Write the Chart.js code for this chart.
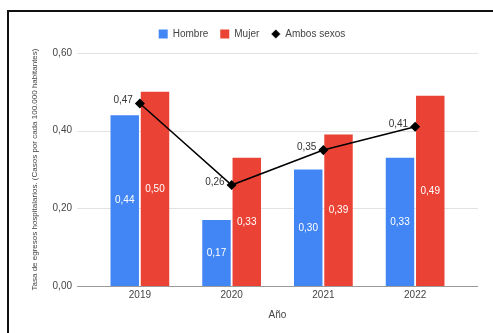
<!DOCTYPE html>
<html>
<head>
<meta charset="utf-8">
<script src="https://cdn.jsdelivr.net/npm/chart.js@4"></script>
<style>
  html, body { margin: 0; padding: 0; background: #fff; overflow: hidden; }
  #wrap { position: relative; width: 493px; height: 333px; }
  #frame { position: absolute; left: 7px; top: 10px; width: 520px; height: 360px; border: 2px solid #111; box-sizing: border-box; }
  canvas { position: absolute; left: 0; top: 0; }
</style>
</head>
<body>
<div id="wrap">
  <div id="frame"></div>
  <canvas id="chart" width="493" height="333"></canvas>
</div>
<script>
const years = ['2019', '2020', '2021', '2022']
const hombre = [0.44, 0.17, 0.30, 0.33]
const mujer = [0.50, 0.33, 0.39, 0.49]
const ambos = [0.47, 0.26, 0.35, 0.41]
const yTicks = [0, 0.2, 0.4, 0.6]

const fmt = (v) => v.toFixed(2).replace('.', ',')

// small diamond for the legend entry of the line
const diamond = document.createElement('canvas')
diamond.width = 10
diamond.height = 10
const dctx = diamond.getContext('2d')
dctx.fillStyle = '#000'
dctx.beginPath()
dctx.moveTo(5, 0.5)
dctx.lineTo(9.5, 5)
dctx.lineTo(5, 9.5)
dctx.lineTo(0.5, 5)
dctx.closePath()
dctx.fill()

// grid lines run wider than the bars area
const gridLines = {
  id: 'gridLines',
  beforeDatasetsDraw(chart) {
    const { ctx } = chart
    const y = chart.scales.y
    ctx.save()
    yTicks.forEach((t) => {
      const py = Math.round(y.getPixelForValue(t)) + 0.5
      ctx.strokeStyle = t === 0 ? '#9a9a9a' : '#e2e2e2'
      ctx.lineWidth = t === 0 ? 1.2 : 1
      ctx.beginPath()
      ctx.moveTo(77, py)
      ctx.lineTo(478, py)
      ctx.stroke()
    })
    ctx.restore()
  }
}

const valueLabels = {
  id: 'valueLabels',
  afterDatasetsDraw(chart) {
    const { ctx } = chart
    ctx.save()
    ctx.font = '10px "Liberation Sans", Arial, sans-serif'
    chart.data.datasets.forEach((ds, i) => {
      const meta = chart.getDatasetMeta(i)
      meta.data.forEach((el, j) => {
        const txt = fmt(ds.data[j])
        ctx.textBaseline = 'middle'
        if (ds.type === 'line') {
          ctx.fillStyle = '#333'
          ctx.textAlign = 'right'
          ctx.fillText(txt, el.x - 7, el.y - 3)
        } else {
          ctx.fillStyle = '#fff'
          ctx.textAlign = 'center'
          ctx.fillText(txt, el.x, (el.y + el.base) / 2)
        }
      })
    })
    ctx.restore()
  }
}

const legendGap = {
  id: 'legendGap',
  beforeInit(chart) {
    const fit = chart.legend.fit
    chart.legend.fit = function () {
      fit.bind(chart.legend)()
      this.height += 4
    }
  },
  afterLayout(chart) {
    chart.legend.left += 9
    chart.legend.right += 9
  }
}

Chart.defaults.font.family = '"Liberation Sans", Arial, sans-serif'
Chart.defaults.font.size = 10
Chart.defaults.color = '#444'

new Chart(document.getElementById('chart'), {
  type: 'bar',
  data: {
    labels: years,
    datasets: [
      {
        label: 'Hombre',
        data: hombre,
        backgroundColor: '#4285F4',
        pointStyle: 'rect',
        order: 2
      },
      {
        label: 'Mujer',
        data: mujer,
        backgroundColor: '#EA4335',
        pointStyle: 'rect',
        order: 2
      },
      {
        type: 'line',
        label: 'Ambos sexos',
        data: ambos,
        borderColor: '#000',
        backgroundColor: '#000',
        borderWidth: 1.5,
        pointStyle: 'rectRot',
        pointRadius: 4,
        pointBackgroundColor: '#000',
        tension: 0,
        order: 1
      }
    ]
  },
  options: {
    responsive: false,
    animation: false,
    devicePixelRatio: 1,
    datasets: {
      bar: {
        categoryPercentage: 0.66,
        barPercentage: 0.94
      }
    },
    layout: {
      padding: { top: 17, right: 32, bottom: 10, left: 25 }
    },
    plugins: {
      legend: {
        position: 'top',
        labels: {
          usePointStyle: true,
          boxWidth: 9,
          boxHeight: 9,
          padding: 12,
          color: '#444',
          sort: (a, b) => a.datasetIndex - b.datasetIndex,
          generateLabels(chart) {
            const items = Chart.defaults.plugins.legend.labels.generateLabels(chart)
            items.forEach((it) => {
              if (it.datasetIndex === 2) {
                it.pointStyle = diamond
                it.lineWidth = 0
              }
            })
            return items
          }
        }
      },
      tooltip: { enabled: false }
    },
    scales: {
      x: {
        grid: { display: false, drawTicks: false },
        border: { display: false },
        ticks: { color: '#444', padding: 3 },
        title: {
          display: true,
          text: 'Año',
          color: '#444',
          padding: { top: 5, bottom: 2 }
        }
      },
      y: {
        min: 0,
        max: 0.6,
        grid: { display: false, drawTicks: false },
        border: { display: false },
        afterFit(scale) {
          scale.width = 69
        },
        ticks: {
          stepSize: 0.2,
          padding: 22,
          color: '#444',
          callback: (v) => fmt(v)
        },
        title: {
          display: true,
          text: 'Tasa de egresos hospitalarios. (Casos por cada 100.000 habitantes)',
          color: '#444',
          font: { size: 8 },
          padding: { top: 5, bottom: 4 }
        }
      }
    }
  },
  plugins: [gridLines, valueLabels, legendGap]
})
</script>
</body>
</html>
